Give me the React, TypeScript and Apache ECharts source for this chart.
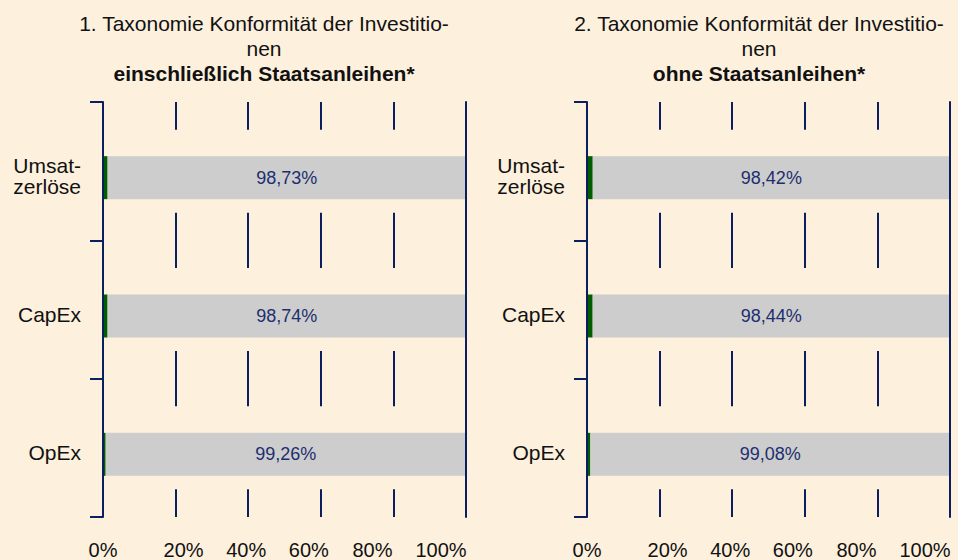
import React, { useEffect, useRef } from "react";
import * as echarts from "echarts";

// ---- data ----
const categories = ["Umsat-\nzerlöse", "CapEx", "OpEx"];
const xTickLabels = ["0%", "20%", "40%", "60%", "80%", "100%"];
const greenIncl = [1.27, 1.26, 0.74];
const grayIncl = [98.73, 98.74, 99.26];
const greenExcl = [1.58, 1.56, 0.92];
const grayExcl = [98.42, 98.44, 99.08];
const titleIncl = ["1. Taxonomie Konformität der Investitio-", "nen", "einschließlich Staatsanleihen*"];
const titleExcl = ["2. Taxonomie Konformität der Investitio-", "nen", "ohne Staatsanleihen*"];

// ---- styling ----
const FONT = "'Liberation Sans', Arial, Helvetica, sans-serif";
const BG = "#fdf0dd";
const NAVY = "#0b1f5e";
const GREEN = "#005e00";
const GRAY = "#cdcdcd";
const TEXT = "#111111";
const LABEL_NAVY = "#1c2f70";
const xLabelShift = [0, 8, -2, -12, -21, -25];

const fmtPct = (v: number) => v.toFixed(2).replace(".", ",") + "%";

function xLabelRich() {
  const rich: Record<string, any> = {};
  xLabelShift.forEach((s, i) => {
    rich["s" + i] = {
      fontFamily: FONT,
      fontSize: 20,
      color: TEXT,
      padding: s >= 0 ? [0, 0, 0, 2 * s] : [0, -2 * s, 0, 0],
    };
  });
  return rich;
}

const catTextStyle = { fontFamily: FONT, fontSize: 21, lineHeight: 21, color: TEXT };

function buildPart(gi: number, greens: number[], grays: number[]) {
  const base = gi * 3;
  const yAxes = [
    {
      type: "category",
      gridIndex: gi,
      data: categories,
      inverse: true,
      position: "left",
      z: 3,
      axisLine: { show: true, lineStyle: { color: NAVY, width: 2 } },
      axisTick: { show: true, length: 13, lineStyle: { color: NAVY, width: 2 } },
      axisLabel: {
        interval: 0,
        margin: 22,
        ...catTextStyle,
        formatter: (v: string) =>
          "{sp| }\n" + v.split("\n").map((l) => "{n|" + l + "}").join("\n"),
        rich: {
          sp: { fontFamily: FONT, fontSize: 1, lineHeight: 10, color: "transparent" },
          n: { ...catTextStyle },
        },
      },
      splitLine: { show: false },
    },
    {
      type: "category",
      gridIndex: gi,
      data: categories,
      inverse: true,
      position: "right",
      z: 3,
      axisLine: { show: true, lineStyle: { color: NAVY, width: 2 } },
      axisTick: { show: false },
      axisLabel: { show: false },
      splitLine: { show: false },
    },
    {
      type: "category",
      gridIndex: gi,
      data: categories,
      inverse: true,
      show: false,
    },
  ];
  const xAxis = {
    type: "value",
    gridIndex: gi,
    min: 0,
    max: 100,
    interval: 20,
    axisLine: { show: false },
    axisTick: { show: false },
    splitLine: { show: true, lineStyle: { color: NAVY, width: 2 } },
    axisLabel: {
      margin: 23,
      formatter: (v: number) => {
        const i = Math.round(v / 20);
        return "{s" + i + "|" + xTickLabels[i] + "}";
      },
      rich: xLabelRich(),
    },
  };
  const series = [
    {
      type: "bar",
      xAxisIndex: gi,
      yAxisIndex: base,
      data: categories.map(() => 100),
      barWidth: 83,
      itemStyle: { color: BG },
      silent: true,
    },
    {
      type: "bar",
      xAxisIndex: gi,
      yAxisIndex: base + 2,
      data: categories.map(() => 0),
      barWidth: 13,
      barGap: 0,
      itemStyle: { color: "transparent" },
      silent: true,
    },
    {
      type: "bar",
      xAxisIndex: gi,
      yAxisIndex: base + 2,
      stack: "s" + gi,
      data: greens,
      barWidth: 43,
      barGap: 0,
      itemStyle: { color: GREEN },
    },
    {
      type: "bar",
      xAxisIndex: gi,
      yAxisIndex: base + 2,
      stack: "s" + gi,
      data: grays,
      barWidth: 43,
      barGap: 0,
      itemStyle: { color: GRAY },
      label: {
        show: true,
        position: "inside",
        formatter: (p: any) => fmtPct(p.value),
        fontFamily: FONT,
        fontSize: 18,
        color: LABEL_NAVY,
      },
    },
  ];
  return { yAxes, xAxis, series };
}

function makeTitle(lines: string[], centerX: number) {
  return {
    text: lines[0] + "\n" + lines[1] + "\n{b|" + lines[2] + "}",
    left: centerX - 5,
    top: 6,
    textAlign: "center",
    textStyle: {
      fontFamily: FONT,
      fontSize: 21,
      fontWeight: "normal",
      color: TEXT,
      lineHeight: 25,
      rich: {
        b: { fontFamily: FONT, fontSize: 21, fontWeight: "bold", color: TEXT, lineHeight: 25 },
      },
    },
  };
}

export default function App() {
  const ref = useRef<HTMLDivElement>(null);
  useEffect(() => {
    if (!ref.current) return;
    const chart = echarts.init(ref.current, undefined, { renderer: "svg" });
    const p1 = buildPart(0, greenIncl, grayIncl);
    const p2 = buildPart(1, greenExcl, grayExcl);
    chart.setOption({
      animation: false,
      backgroundColor: BG,
      title: [makeTitle(titleIncl, 264), makeTitle(titleExcl, 759)],
      grid: [
        { left: 103, width: 363, top: 102, height: 415, containLabel: false },
        { left: 587, width: 363, top: 102, height: 415, containLabel: false },
      ],
      xAxis: [p1.xAxis, p2.xAxis],
      yAxis: [...p1.yAxes, ...p2.yAxes],
      series: [...p1.series, ...p2.series],
    });
    return () => chart.dispose();
  }, []);
  return (
    <div
      ref={ref}
      style={{ position: "fixed", left: 0, top: 0, width: 958, height: 560, background: BG }}
    />
  );
}
